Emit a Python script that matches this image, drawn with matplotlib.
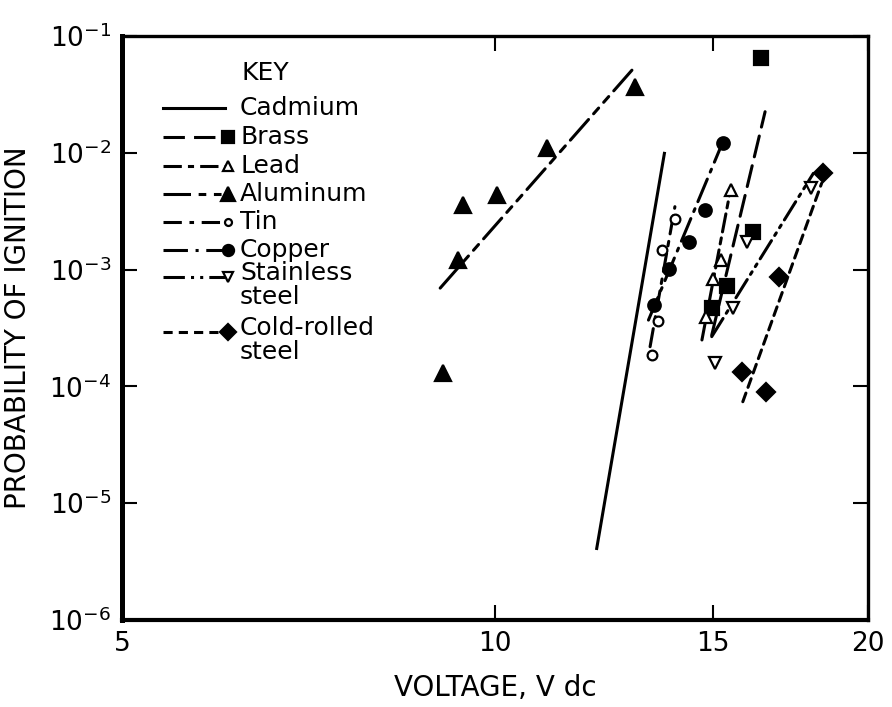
import matplotlib.pyplot as plt
from matplotlib.ticker import FixedLocator, NullLocator, FixedFormatter

plt.rcParams['font.family'] = ['DejaVu Sans']

# measured points (voltage, probability)
al_v = [9.08, 9.34, 9.43, 10.04, 11.01, 12.97]
al_p = [1.31e-4, 1.22e-3, 3.57e-3, 4.35e-3, 1.09e-2, 3.68e-2]
brass_v = [14.98, 15.38, 16.16, 16.41]
brass_p = [4.67e-4, 7.24e-4, 2.11e-3, 6.44e-2]
lead_v = [14.79, 15.0, 15.22, 15.52]
lead_p = [3.95e-4, 8.26e-4, 1.22e-3, 4.8e-3]
tin_v = [13.39, 13.53, 13.65, 13.97]
tin_p = [1.86e-4, 3.66e-4, 1.47e-3, 2.7e-3]
cu_v = [13.44, 13.82, 14.35, 14.77, 15.27]
cu_p = [4.98e-4, 1.01e-3, 1.73e-3, 3.24e-3, 1.21e-2]
ss_v = [15.05, 15.56, 15.98, 17.98]
ss_p = [1.6e-4, 4.67e-4, 1.73e-3, 4.97e-3]
crs_v = [15.82, 16.54, 16.96, 18.41]
crs_p = [1.34e-4, 9.0e-5, 8.69e-4, 6.67e-3]

# fitted lines (end points)
cd_fit_v = [12.08, 13.70]
cd_fit_p = [4.1e-6, 9.9e-3]
al_fit_v = [9.03, 12.97]
al_fit_p = [6.95e-4, 5.46e-2]
brass_fit_v = [14.96, 16.52]
brass_fit_p = [2.75e-4, 2.25e-2]
lead_fit_v = [14.69, 15.5]
lead_fit_p = [2.5e-4, 5.0e-3]
tin_fit_v = [13.34, 13.97]
tin_fit_p = [2.19e-4, 3.46e-3]
cu_fit_v = [13.30, 15.2]
cu_fit_p = [3.7e-4, 1.1e-2]
ss_fit_v = [14.96, 18.07]
ss_fit_p = [2.67e-4, 6.67e-3]
crs_fit_v = [15.85, 18.35]
crs_fit_p = [7.4e-5, 5.48e-3]

x_ticks = [5, 10, 15, 20]
y_ticks = [1e-6, 1e-5, 1e-4, 1e-3, 1e-2, 1e-1]
y_labels = ['$10^{-6}$', '$10^{-5}$', '$10^{-4}$', '$10^{-3}$', '$10^{-2}$', '$10^{-1}$']

key_names = ['Cadmium', 'Brass', 'Lead', 'Aluminum', 'Tin', 'Copper',
             'Stainless\nsteel', 'Cold-rolled\nsteel']

styles = {
    'Cadmium': dict(ls='-', marker=None, mfc='k'),
    'Brass': dict(ls=(0, (7, 3)), marker='s', mfc='k'),
    'Lead': dict(ls=(0, (6, 2, 2, 2)), marker='^', mfc='white'),
    'Aluminum': dict(ls=(0, (9, 2.5, 2.5, 2.5, 2.5, 2.5)), marker='^', mfc='k'),
    'Tin': dict(ls=(0, (6, 2.5, 1.5, 2.5)), marker='o', mfc='white'),
    'Copper': dict(ls=(0, (8, 2.5, 1, 2.5)), marker='o', mfc='k'),
    'Stainless\nsteel': dict(ls=(0, (7, 2, 1, 2, 1, 2)), marker='v', mfc='white'),
    'Cold-rolled\nsteel': dict(ls=(0, (3, 2)), marker='D', mfc='k'),
}
msizes = {'s': 10, '^': 11, 'o': 9, 'v': 10, 'D': 9}
open_sizes = {'^': 9, 'o': 7, 'v': 9}

fig = plt.figure(figsize=(8.92, 7.07), dpi=100)
ax = fig.add_axes([0.137, 0.123, 0.836, 0.826])


def draw(name, fv, fp, v=None, p=None):
    st = styles[name]
    ax.plot(fv, fp, color='k', lw=2.2, linestyle=st['ls'], dash_capstyle='round')
    if v is not None:
        m = st['marker']
        ms = open_sizes[m] if st['mfc'] == 'white' else msizes[m]
        ax.plot(v, p, linestyle='none', marker=m, ms=ms, mfc=st['mfc'],
                mec='k', mew=1.6, zorder=3)


draw('Cadmium', cd_fit_v, cd_fit_p)
draw('Brass', brass_fit_v, brass_fit_p, brass_v, brass_p)
draw('Lead', lead_fit_v, lead_fit_p, lead_v, lead_p)
draw('Aluminum', al_fit_v, al_fit_p, al_v, al_p)
draw('Tin', tin_fit_v, tin_fit_p, tin_v, tin_p)
draw('Copper', cu_fit_v, cu_fit_p, cu_v, cu_p)
draw('Stainless\nsteel', ss_fit_v, ss_fit_p, ss_v, ss_p)
draw('Cold-rolled\nsteel', crs_fit_v, crs_fit_p, crs_v, crs_p)

ax.set_xscale('log')
ax.set_yscale('log')
ax.set_xlim(5, 20)
ax.set_ylim(1e-6, 1e-1)
ax.xaxis.set_major_locator(FixedLocator(x_ticks))
ax.xaxis.set_major_formatter(FixedFormatter([str(t) for t in x_ticks]))
ax.xaxis.set_minor_locator(NullLocator())
ax.yaxis.set_major_locator(FixedLocator(y_ticks))
ax.yaxis.set_major_formatter(FixedFormatter(y_labels))
ax.yaxis.set_minor_locator(NullLocator())
ax.tick_params(which='major', direction='in', length=11, width=1.5,
               top=True, right=True, labelsize=19, pad=8)

for side, w in [('left', 3.6), ('bottom', 3.0), ('top', 2.4), ('right', 2.4)]:
    ax.spines[side].set_linewidth(w)

ax.set_xlabel('VOLTAGE, V dc', fontsize=20, labelpad=12)
ax.set_ylabel('PROBABILITY OF IGNITION', fontsize=20, labelpad=12)

# key, hand placed in axes fraction
ax.text(0.192, 0.937, 'KEY', transform=ax.transAxes, fontsize=18,
        ha='center', va='center')
rows = [0.877, 0.827, 0.777, 0.730, 0.682, 0.634, 0.587, 0.493]
for name, yr in zip(key_names, rows):
    st = styles[name]
    ax.plot([0.055, 0.138], [yr, yr], transform=ax.transAxes, color='k',
            lw=2.2, linestyle=st['ls'])
    if st['marker'] is not None:
        m = st['marker']
        ms = (open_sizes[m] - 2) if st['mfc'] == 'white' else msizes[m] - 1
        ax.plot([0.142], [yr], transform=ax.transAxes, marker=m, ms=ms,
                mfc=st['mfc'], mec='k', mew=1.6, linestyle='none')
    ax.text(0.158, yr, name, transform=ax.transAxes, fontsize=18,
            va='top' if '\n' in name else 'center',
            ha='left', linespacing=1.0,
            position=(0.158, yr + 0.028) if '\n' in name else (0.158, yr))

fig.savefig('out.png', dpi=100)
